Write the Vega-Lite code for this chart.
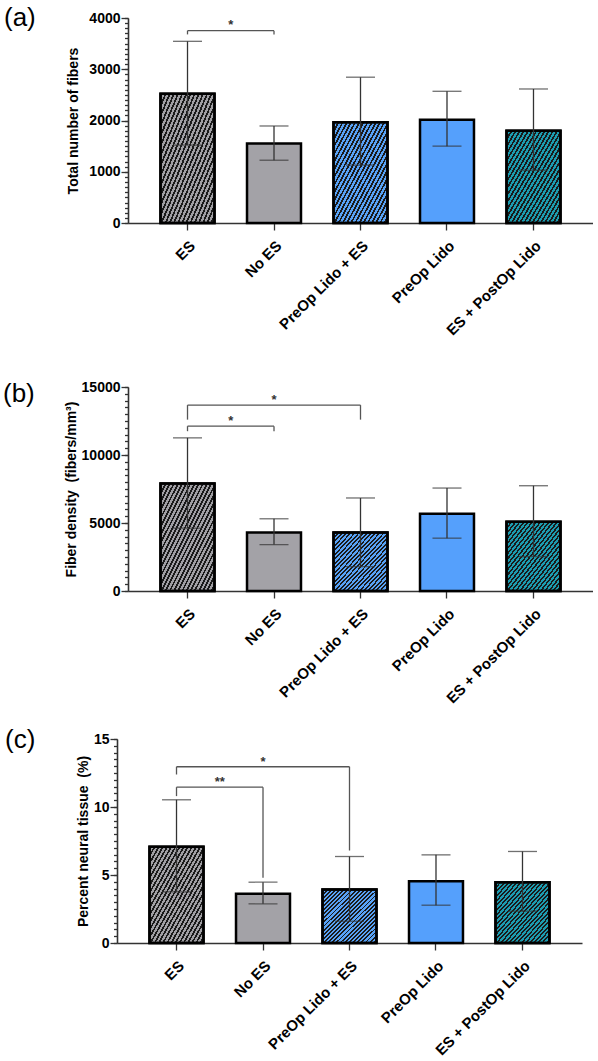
{
  "$schema": "https://vega.github.io/schema/vega-lite/v6.json",
  "padding": {"left": 3, "top": 5, "right": 0, "bottom": 0},
  "autosize": {"type": "pad"},
  "background": "white",
  "config": {
    "view": {"stroke": null},
    "font": "Liberation Sans",
    "axisY": {
      "domainColor": "#333", "domainWidth": 1.6, "tickColor": "#333", "tickWidth": 1.3,
      "labelFontSize": 14, "labelFontWeight": "bold", "labelColor": "black", "labelPadding": 1,
      "labelOverlap": false, "labelFlush": false, "labelBound": false,
      "titleFontSize": 14, "titleFontWeight": "bold", "titleColor": "black", "grid": false, "format": "d"
    },
    "axisX": {
      "domainColor": "#333", "domainWidth": 1.6, "tickColor": "#333", "tickWidth": 1.3, "tickSize": 7,
      "labelAngle": -45, "labelFontSize": 15, "labelFontWeight": "bold", "labelColor": "black",
      "labelPadding": 8, "grid": false
    },
    "title": {"fontSize": 26, "fontWeight": "normal", "color": "black", "anchor": "start", "frame": "group"}
  },
  "datasets": {
    "a": [
      {"group": "ES", "mean": 2520, "lo": 1520, "hi": 3545},
      {"group": "No ES", "mean": 1550, "lo": 1225, "hi": 1893},
      {"group": "PreOp Lido + ES", "mean": 1965, "lo": 1130, "hi": 2845},
      {"group": "PreOp Lido", "mean": 2015, "lo": 1500, "hi": 2570},
      {"group": "ES + PostOp Lido", "mean": 1800, "lo": 1030, "hi": 2615}
    ],
    "a_br": [
      {"kind": "inner", "from": "ES", "to": "No ES", "mid": "ES", "y": 3752, "yl": 3680, "yr": 3680, "star": "*", "ys": 3790}
    ],
    "b": [
      {"group": "ES", "mean": 7900, "lo": 4620, "hi": 11260},
      {"group": "No ES", "mean": 4300, "lo": 3410, "hi": 5310},
      {"group": "PreOp Lido + ES", "mean": 4300, "lo": 1790, "hi": 6840},
      {"group": "PreOp Lido", "mean": 5680, "lo": 3885, "hi": 7570},
      {"group": "ES + PostOp Lido", "mean": 5090, "lo": 2530, "hi": 7740}
    ],
    "b_br": [
      {"kind": "inner", "from": "ES", "to": "No ES", "mid": "ES", "y": 12120, "yl": 11750, "yr": 11750, "star": "*", "ys": 12200},
      {"kind": "outer", "from": "ES", "to": "PreOp Lido + ES", "mid": "No ES", "y": 13670, "yl": 12600, "yr": 12600, "star": "*", "ys": 13750}
    ],
    "c": [
      {"group": "ES", "mean": 7.07, "lo": 3.76, "hi": 10.53},
      {"group": "No ES", "mean": 3.62, "lo": 2.88, "hi": 4.47},
      {"group": "PreOp Lido + ES", "mean": 3.93, "lo": 1.6, "hi": 6.36},
      {"group": "PreOp Lido", "mean": 4.54, "lo": 2.78, "hi": 6.48},
      {"group": "ES + PostOp Lido", "mean": 4.47, "lo": 2.34, "hi": 6.73}
    ],
    "c_br": [
      {"kind": "inner", "from": "ES", "to": "No ES", "mid": "ES", "y": 11.46, "yl": 10.8, "yr": 4.8, "star": "**", "ys": 11.55},
      {"kind": "outer", "from": "ES", "to": "PreOp Lido + ES", "mid": "No ES", "y": 12.96, "yl": 12.39, "yr": 6.8, "star": "*", "ys": 13.05}
    ]
  },
  "bounds": "flush",
  "spacing": 164,
  "vconcat": [
    {
      "width": 465, "height": 205,
      "title": {"text": "(a)", "dx": -124, "offset": -20},
      "resolve": {"axis": {"y": "independent"}},
      "layer": [
        {
          "data": {"name": "a"},
          "mark": {"type": "bar", "stroke": "black", "strokeWidth": 2.5},
          "encoding": {
            "x": {"field": "group", "type": "nominal", "title": null,
              "scale": {"domain": ["ES", "No ES", "PreOp Lido + ES", "PreOp Lido", "ES + PostOp Lido"], "paddingInner": 0.376, "paddingOuter": 0.376},
              "axis": {"title": null}},
            "y": {"field": "mean", "type": "quantitative",
              "scale": {"domain": [0, 4000], "nice": false},
              "axis": {"title": "Total number of fibers", "orient": "left", "values": [0, 1000, 2000, 3000, 4000], "tickSize": 7, "titlePadding": 8}},
            "fill": {"field": "group", "type": "nominal", "legend": null,
              "scale": {"domain": ["ES", "No ES", "PreOp Lido + ES", "PreOp Lido", "ES + PostOp Lido"], "range": ["#a09fa4", "#a3a2a7", "#58a2f6", "#55a0fc", "#1c9cb0"]}}
          }
        },
        {
          "data": {"name": "a"},
          "transform": [{"filter": {"field": "group", "oneOf": ["ES", "PreOp Lido + ES", "ES + PostOp Lido"]}}],
          "mark": {"type": "bar", "stroke": "black", "strokeWidth": 2.5,
            "fill": {"gradient": "linear", "x1": 0, "y1": 0, "x2": 1, "y2": 1, "stops": [
              {"offset": 0.0, "color": "#1a1a1a"}, {"offset": 0.0173, "color": "#1a1a1a"}, {"offset": 0.0173, "color": "rgba(0,0,0,0)"}, {"offset": 0.0385, "color": "rgba(0,0,0,0)"},
              {"offset": 0.0385, "color": "#1a1a1a"}, {"offset": 0.0558, "color": "#1a1a1a"}, {"offset": 0.0558, "color": "rgba(0,0,0,0)"}, {"offset": 0.0769, "color": "rgba(0,0,0,0)"},
              {"offset": 0.0769, "color": "#1a1a1a"}, {"offset": 0.0942, "color": "#1a1a1a"}, {"offset": 0.0942, "color": "rgba(0,0,0,0)"}, {"offset": 0.1154, "color": "rgba(0,0,0,0)"},
              {"offset": 0.1154, "color": "#1a1a1a"}, {"offset": 0.1327, "color": "#1a1a1a"}, {"offset": 0.1327, "color": "rgba(0,0,0,0)"}, {"offset": 0.1538, "color": "rgba(0,0,0,0)"},
              {"offset": 0.1538, "color": "#1a1a1a"}, {"offset": 0.1711, "color": "#1a1a1a"}, {"offset": 0.1711, "color": "rgba(0,0,0,0)"}, {"offset": 0.1923, "color": "rgba(0,0,0,0)"},
              {"offset": 0.1923, "color": "#1a1a1a"}, {"offset": 0.2096, "color": "#1a1a1a"}, {"offset": 0.2096, "color": "rgba(0,0,0,0)"}, {"offset": 0.2308, "color": "rgba(0,0,0,0)"},
              {"offset": 0.2308, "color": "#1a1a1a"}, {"offset": 0.2481, "color": "#1a1a1a"}, {"offset": 0.2481, "color": "rgba(0,0,0,0)"}, {"offset": 0.2692, "color": "rgba(0,0,0,0)"},
              {"offset": 0.2692, "color": "#1a1a1a"}, {"offset": 0.2865, "color": "#1a1a1a"}, {"offset": 0.2865, "color": "rgba(0,0,0,0)"}, {"offset": 0.3077, "color": "rgba(0,0,0,0)"},
              {"offset": 0.3077, "color": "#1a1a1a"}, {"offset": 0.3250, "color": "#1a1a1a"}, {"offset": 0.3250, "color": "rgba(0,0,0,0)"}, {"offset": 0.3462, "color": "rgba(0,0,0,0)"},
              {"offset": 0.3462, "color": "#1a1a1a"}, {"offset": 0.3635, "color": "#1a1a1a"}, {"offset": 0.3635, "color": "rgba(0,0,0,0)"}, {"offset": 0.3846, "color": "rgba(0,0,0,0)"},
              {"offset": 0.3846, "color": "#1a1a1a"}, {"offset": 0.4019, "color": "#1a1a1a"}, {"offset": 0.4019, "color": "rgba(0,0,0,0)"}, {"offset": 0.4231, "color": "rgba(0,0,0,0)"},
              {"offset": 0.4231, "color": "#1a1a1a"}, {"offset": 0.4404, "color": "#1a1a1a"}, {"offset": 0.4404, "color": "rgba(0,0,0,0)"}, {"offset": 0.4615, "color": "rgba(0,0,0,0)"},
              {"offset": 0.4615, "color": "#1a1a1a"}, {"offset": 0.4788, "color": "#1a1a1a"}, {"offset": 0.4788, "color": "rgba(0,0,0,0)"}, {"offset": 0.5000, "color": "rgba(0,0,0,0)"},
              {"offset": 0.5000, "color": "#1a1a1a"}, {"offset": 0.5173, "color": "#1a1a1a"}, {"offset": 0.5173, "color": "rgba(0,0,0,0)"}, {"offset": 0.5385, "color": "rgba(0,0,0,0)"},
              {"offset": 0.5385, "color": "#1a1a1a"}, {"offset": 0.5558, "color": "#1a1a1a"}, {"offset": 0.5558, "color": "rgba(0,0,0,0)"}, {"offset": 0.5769, "color": "rgba(0,0,0,0)"},
              {"offset": 0.5769, "color": "#1a1a1a"}, {"offset": 0.5942, "color": "#1a1a1a"}, {"offset": 0.5942, "color": "rgba(0,0,0,0)"}, {"offset": 0.6154, "color": "rgba(0,0,0,0)"},
              {"offset": 0.6154, "color": "#1a1a1a"}, {"offset": 0.6327, "color": "#1a1a1a"}, {"offset": 0.6327, "color": "rgba(0,0,0,0)"}, {"offset": 0.6538, "color": "rgba(0,0,0,0)"},
              {"offset": 0.6538, "color": "#1a1a1a"}, {"offset": 0.6711, "color": "#1a1a1a"}, {"offset": 0.6711, "color": "rgba(0,0,0,0)"}, {"offset": 0.6923, "color": "rgba(0,0,0,0)"},
              {"offset": 0.6923, "color": "#1a1a1a"}, {"offset": 0.7096, "color": "#1a1a1a"}, {"offset": 0.7096, "color": "rgba(0,0,0,0)"}, {"offset": 0.7308, "color": "rgba(0,0,0,0)"},
              {"offset": 0.7308, "color": "#1a1a1a"}, {"offset": 0.7481, "color": "#1a1a1a"}, {"offset": 0.7481, "color": "rgba(0,0,0,0)"}, {"offset": 0.7692, "color": "rgba(0,0,0,0)"},
              {"offset": 0.7692, "color": "#1a1a1a"}, {"offset": 0.7865, "color": "#1a1a1a"}, {"offset": 0.7865, "color": "rgba(0,0,0,0)"}, {"offset": 0.8077, "color": "rgba(0,0,0,0)"},
              {"offset": 0.8077, "color": "#1a1a1a"}, {"offset": 0.8250, "color": "#1a1a1a"}, {"offset": 0.8250, "color": "rgba(0,0,0,0)"}, {"offset": 0.8462, "color": "rgba(0,0,0,0)"},
              {"offset": 0.8462, "color": "#1a1a1a"}, {"offset": 0.8635, "color": "#1a1a1a"}, {"offset": 0.8635, "color": "rgba(0,0,0,0)"}, {"offset": 0.8846, "color": "rgba(0,0,0,0)"},
              {"offset": 0.8846, "color": "#1a1a1a"}, {"offset": 0.9019, "color": "#1a1a1a"}, {"offset": 0.9019, "color": "rgba(0,0,0,0)"}, {"offset": 0.9231, "color": "rgba(0,0,0,0)"},
              {"offset": 0.9231, "color": "#1a1a1a"}, {"offset": 0.9404, "color": "#1a1a1a"}, {"offset": 0.9404, "color": "rgba(0,0,0,0)"}, {"offset": 0.9615, "color": "rgba(0,0,0,0)"},
              {"offset": 0.9615, "color": "#1a1a1a"}, {"offset": 0.9788, "color": "#1a1a1a"}, {"offset": 0.9788, "color": "rgba(0,0,0,0)"}, {"offset": 1.0, "color": "rgba(0,0,0,0)"}
            ]}},
          "encoding": {"x": {"field": "group", "type": "nominal", "title": null}, "y": {"field": "mean", "type": "quantitative", "axis": null}}
        },
        {
          "data": {"name": "a"},
          "mark": {"type": "rule", "color": "#333", "strokeWidth": 1.3},
          "encoding": {"x": {"field": "group", "type": "nominal", "title": null},
            "y": {"field": "lo", "type": "quantitative",
              "axis": {"orient": "left", "title": null, "labels": false, "domain": false, "tickSize": 3.5,
                "values": [0,100,200,300,400,500,600,700,800,900,1000,1100,1200,1300,1400,1500,1600,1700,1800,1900,2000,2100,2200,2300,2400,2500,2600,2700,2800,2900,3000,3100,3200,3300,3400,3500,3600,3700,3800,3900,4000]}},
            "y2": {"field": "hi"}}
        },
        {
          "data": {"name": "a"},
          "mark": {"type": "tick", "color": "#333", "thickness": 1.3, "size": 29},
          "encoding": {"x": {"field": "group", "type": "nominal", "title": null}, "y": {"field": "lo", "type": "quantitative", "axis": null}}
        },
        {
          "data": {"name": "a"},
          "mark": {"type": "tick", "color": "#333", "thickness": 1.3, "size": 29},
          "encoding": {"x": {"field": "group", "type": "nominal", "title": null}, "y": {"field": "hi", "type": "quantitative", "axis": null}}
        },
        {
          "data": {"name": "a_br"},
          "mark": {"type": "rule", "color": "#555", "strokeWidth": 1.3},
          "encoding": {"x": {"field": "from", "type": "nominal", "title": null}, "x2": {"field": "to"}, "y": {"field": "y", "type": "quantitative", "axis": null}}
        },
        {
          "data": {"name": "a_br"},
          "mark": {"type": "rule", "color": "#555", "strokeWidth": 1.3},
          "encoding": {"x": {"field": "from", "type": "nominal", "title": null}, "y": {"field": "y", "type": "quantitative", "axis": null}, "y2": {"field": "yl"}}
        },
        {
          "data": {"name": "a_br"},
          "mark": {"type": "rule", "color": "#555", "strokeWidth": 1.3},
          "encoding": {"x": {"field": "to", "type": "nominal", "title": null}, "y": {"field": "y", "type": "quantitative", "axis": null}, "y2": {"field": "yr"}}
        },
        {
          "data": {"name": "a_br"},
          "transform": [{"filter": "datum.kind === 'inner'"}],
          "mark": {"type": "text", "fontSize": 13, "fontWeight": "bold", "color": "#333", "baseline": "alphabetic"},
          "encoding": {"x": {"field": "mid", "type": "nominal", "title": null, "bandPosition": 1.301}, "y": {"field": "ys", "type": "quantitative", "axis": null}, "text": {"field": "star"}}
        }
      ]
    },
    {
      "bounds": "flush",
      "spacing": 148,
      "vconcat": [
        {
          "width": 465, "height": 204,
          "title": {"text": "(b)", "dx": -125, "offset": -27},
          "resolve": {"axis": {"y": "independent"}},
          "layer": [
            {
              "data": {"name": "b"},
              "mark": {"type": "bar", "stroke": "black", "strokeWidth": 2.5},
              "encoding": {
                "x": {"field": "group", "type": "nominal", "title": null,
                  "scale": {"domain": ["ES", "No ES", "PreOp Lido + ES", "PreOp Lido", "ES + PostOp Lido"], "paddingInner": 0.376, "paddingOuter": 0.376},
                  "axis": {"title": null}},
                "y": {"field": "mean", "type": "quantitative",
                  "scale": {"domain": [0, 15000], "nice": false},
                  "axis": {"title": "Fiber density\u00a0\u00a0(fibers/mm³)", "orient": "left", "values": [0, 5000, 10000, 15000], "tickSize": 7, "titlePadding": 3}},
                "fill": {"field": "group", "type": "nominal", "legend": null,
                  "scale": {"domain": ["ES", "No ES", "PreOp Lido + ES", "PreOp Lido", "ES + PostOp Lido"], "range": ["#a09fa4", "#a3a2a7", "#58a2f6", "#55a0fc", "#1c9cb0"]}}
              }
            },
            {
              "data": {"name": "b"},
              "transform": [{"filter": {"field": "group", "oneOf": ["ES", "PreOp Lido + ES", "ES + PostOp Lido"]}}],
              "mark": {"type": "bar", "stroke": "black", "strokeWidth": 2.5,
                "fill": {"gradient": "linear", "x1": 0, "y1": 0, "x2": 1, "y2": 1, "stops": [
                  {"offset": 0.0, "color": "#1a1a1a"}, {"offset": 0.0173, "color": "#1a1a1a"}, {"offset": 0.0173, "color": "rgba(0,0,0,0)"}, {"offset": 0.0385, "color": "rgba(0,0,0,0)"},
                  {"offset": 0.0385, "color": "#1a1a1a"}, {"offset": 0.0558, "color": "#1a1a1a"}, {"offset": 0.0558, "color": "rgba(0,0,0,0)"}, {"offset": 0.0769, "color": "rgba(0,0,0,0)"},
                  {"offset": 0.0769, "color": "#1a1a1a"}, {"offset": 0.0942, "color": "#1a1a1a"}, {"offset": 0.0942, "color": "rgba(0,0,0,0)"}, {"offset": 0.1154, "color": "rgba(0,0,0,0)"},
                  {"offset": 0.1154, "color": "#1a1a1a"}, {"offset": 0.1327, "color": "#1a1a1a"}, {"offset": 0.1327, "color": "rgba(0,0,0,0)"}, {"offset": 0.1538, "color": "rgba(0,0,0,0)"},
                  {"offset": 0.1538, "color": "#1a1a1a"}, {"offset": 0.1711, "color": "#1a1a1a"}, {"offset": 0.1711, "color": "rgba(0,0,0,0)"}, {"offset": 0.1923, "color": "rgba(0,0,0,0)"},
                  {"offset": 0.1923, "color": "#1a1a1a"}, {"offset": 0.2096, "color": "#1a1a1a"}, {"offset": 0.2096, "color": "rgba(0,0,0,0)"}, {"offset": 0.2308, "color": "rgba(0,0,0,0)"},
                  {"offset": 0.2308, "color": "#1a1a1a"}, {"offset": 0.2481, "color": "#1a1a1a"}, {"offset": 0.2481, "color": "rgba(0,0,0,0)"}, {"offset": 0.2692, "color": "rgba(0,0,0,0)"},
                  {"offset": 0.2692, "color": "#1a1a1a"}, {"offset": 0.2865, "color": "#1a1a1a"}, {"offset": 0.2865, "color": "rgba(0,0,0,0)"}, {"offset": 0.3077, "color": "rgba(0,0,0,0)"},
                  {"offset": 0.3077, "color": "#1a1a1a"}, {"offset": 0.3250, "color": "#1a1a1a"}, {"offset": 0.3250, "color": "rgba(0,0,0,0)"}, {"offset": 0.3462, "color": "rgba(0,0,0,0)"},
                  {"offset": 0.3462, "color": "#1a1a1a"}, {"offset": 0.3635, "color": "#1a1a1a"}, {"offset": 0.3635, "color": "rgba(0,0,0,0)"}, {"offset": 0.3846, "color": "rgba(0,0,0,0)"},
                  {"offset": 0.3846, "color": "#1a1a1a"}, {"offset": 0.4019, "color": "#1a1a1a"}, {"offset": 0.4019, "color": "rgba(0,0,0,0)"}, {"offset": 0.4231, "color": "rgba(0,0,0,0)"},
                  {"offset": 0.4231, "color": "#1a1a1a"}, {"offset": 0.4404, "color": "#1a1a1a"}, {"offset": 0.4404, "color": "rgba(0,0,0,0)"}, {"offset": 0.4615, "color": "rgba(0,0,0,0)"},
                  {"offset": 0.4615, "color": "#1a1a1a"}, {"offset": 0.4788, "color": "#1a1a1a"}, {"offset": 0.4788, "color": "rgba(0,0,0,0)"}, {"offset": 0.5000, "color": "rgba(0,0,0,0)"},
                  {"offset": 0.5000, "color": "#1a1a1a"}, {"offset": 0.5173, "color": "#1a1a1a"}, {"offset": 0.5173, "color": "rgba(0,0,0,0)"}, {"offset": 0.5385, "color": "rgba(0,0,0,0)"},
                  {"offset": 0.5385, "color": "#1a1a1a"}, {"offset": 0.5558, "color": "#1a1a1a"}, {"offset": 0.5558, "color": "rgba(0,0,0,0)"}, {"offset": 0.5769, "color": "rgba(0,0,0,0)"},
                  {"offset": 0.5769, "color": "#1a1a1a"}, {"offset": 0.5942, "color": "#1a1a1a"}, {"offset": 0.5942, "color": "rgba(0,0,0,0)"}, {"offset": 0.6154, "color": "rgba(0,0,0,0)"},
                  {"offset": 0.6154, "color": "#1a1a1a"}, {"offset": 0.6327, "color": "#1a1a1a"}, {"offset": 0.6327, "color": "rgba(0,0,0,0)"}, {"offset": 0.6538, "color": "rgba(0,0,0,0)"},
                  {"offset": 0.6538, "color": "#1a1a1a"}, {"offset": 0.6711, "color": "#1a1a1a"}, {"offset": 0.6711, "color": "rgba(0,0,0,0)"}, {"offset": 0.6923, "color": "rgba(0,0,0,0)"},
                  {"offset": 0.6923, "color": "#1a1a1a"}, {"offset": 0.7096, "color": "#1a1a1a"}, {"offset": 0.7096, "color": "rgba(0,0,0,0)"}, {"offset": 0.7308, "color": "rgba(0,0,0,0)"},
                  {"offset": 0.7308, "color": "#1a1a1a"}, {"offset": 0.7481, "color": "#1a1a1a"}, {"offset": 0.7481, "color": "rgba(0,0,0,0)"}, {"offset": 0.7692, "color": "rgba(0,0,0,0)"},
                  {"offset": 0.7692, "color": "#1a1a1a"}, {"offset": 0.7865, "color": "#1a1a1a"}, {"offset": 0.7865, "color": "rgba(0,0,0,0)"}, {"offset": 0.8077, "color": "rgba(0,0,0,0)"},
                  {"offset": 0.8077, "color": "#1a1a1a"}, {"offset": 0.8250, "color": "#1a1a1a"}, {"offset": 0.8250, "color": "rgba(0,0,0,0)"}, {"offset": 0.8462, "color": "rgba(0,0,0,0)"},
                  {"offset": 0.8462, "color": "#1a1a1a"}, {"offset": 0.8635, "color": "#1a1a1a"}, {"offset": 0.8635, "color": "rgba(0,0,0,0)"}, {"offset": 0.8846, "color": "rgba(0,0,0,0)"},
                  {"offset": 0.8846, "color": "#1a1a1a"}, {"offset": 0.9019, "color": "#1a1a1a"}, {"offset": 0.9019, "color": "rgba(0,0,0,0)"}, {"offset": 0.9231, "color": "rgba(0,0,0,0)"},
                  {"offset": 0.9231, "color": "#1a1a1a"}, {"offset": 0.9404, "color": "#1a1a1a"}, {"offset": 0.9404, "color": "rgba(0,0,0,0)"}, {"offset": 0.9615, "color": "rgba(0,0,0,0)"},
                  {"offset": 0.9615, "color": "#1a1a1a"}, {"offset": 0.9788, "color": "#1a1a1a"}, {"offset": 0.9788, "color": "rgba(0,0,0,0)"}, {"offset": 1.0, "color": "rgba(0,0,0,0)"}
                ]}},
              "encoding": {"x": {"field": "group", "type": "nominal", "title": null}, "y": {"field": "mean", "type": "quantitative", "axis": null}}
            },
            {
              "data": {"name": "b"},
              "mark": {"type": "rule", "color": "#333", "strokeWidth": 1.3},
              "encoding": {"x": {"field": "group", "type": "nominal", "title": null},
                "y": {"field": "lo", "type": "quantitative",
                  "axis": {"orient": "left", "title": null, "labels": false, "domain": false, "tickSize": 3.5,
                    "values": [0,500,1000,1500,2000,2500,3000,3500,4000,4500,5000,5500,6000,6500,7000,7500,8000,8500,9000,9500,10000,10500,11000,11500,12000,12500,13000,13500,14000,14500,15000]}},
                "y2": {"field": "hi"}}
            },
            {
              "data": {"name": "b"},
              "mark": {"type": "tick", "color": "#333", "thickness": 1.3, "size": 29},
              "encoding": {"x": {"field": "group", "type": "nominal", "title": null}, "y": {"field": "lo", "type": "quantitative", "axis": null}}
            },
            {
              "data": {"name": "b"},
              "mark": {"type": "tick", "color": "#333", "thickness": 1.3, "size": 29},
              "encoding": {"x": {"field": "group", "type": "nominal", "title": null}, "y": {"field": "hi", "type": "quantitative", "axis": null}}
            },
            {
              "data": {"name": "b_br"},
              "mark": {"type": "rule", "color": "#555", "strokeWidth": 1.3},
              "encoding": {"x": {"field": "from", "type": "nominal", "title": null}, "x2": {"field": "to"}, "y": {"field": "y", "type": "quantitative", "axis": null}}
            },
            {
              "data": {"name": "b_br"},
              "mark": {"type": "rule", "color": "#555", "strokeWidth": 1.3},
              "encoding": {"x": {"field": "from", "type": "nominal", "title": null}, "y": {"field": "y", "type": "quantitative", "axis": null}, "y2": {"field": "yl"}}
            },
            {
              "data": {"name": "b_br"},
              "mark": {"type": "rule", "color": "#555", "strokeWidth": 1.3},
              "encoding": {"x": {"field": "to", "type": "nominal", "title": null}, "y": {"field": "y", "type": "quantitative", "axis": null}, "y2": {"field": "yr"}}
            },
            {
              "data": {"name": "b_br"},
              "transform": [{"filter": "datum.kind === 'inner'"}],
              "mark": {"type": "text", "fontSize": 13, "fontWeight": "bold", "color": "#333", "baseline": "alphabetic"},
              "encoding": {"x": {"field": "mid", "type": "nominal", "title": null, "bandPosition": 1.301}, "y": {"field": "ys", "type": "quantitative", "axis": null}, "text": {"field": "star"}}
            },
            {
              "data": {"name": "b_br"},
              "transform": [{"filter": "datum.kind === 'outer'"}],
              "mark": {"type": "text", "fontSize": 13, "fontWeight": "bold", "color": "#333", "baseline": "alphabetic"},
              "encoding": {"x": {"field": "mid", "type": "nominal", "title": null, "bandPosition": 0.5}, "y": {"field": "ys", "type": "quantitative", "axis": null}, "text": {"field": "star"}}
            }
          ]
        },
        {
          "width": 454, "height": 204,
          "title": {"text": "(c)", "dx": -123, "offset": -21},
          "resolve": {"axis": {"y": "independent"}},
          "layer": [
            {
              "data": {"name": "c"},
              "mark": {"type": "bar", "stroke": "black", "strokeWidth": 2.5},
              "encoding": {
                "x": {"field": "group", "type": "nominal", "title": null,
                  "scale": {"domain": ["ES", "No ES", "PreOp Lido + ES", "PreOp Lido", "ES + PostOp Lido"], "paddingInner": 0.376, "paddingOuter": 0.376, "range": [-11, 454]},
                  "axis": {"title": null}},
                "y": {"field": "mean", "type": "quantitative",
                  "scale": {"domain": [0, 15], "nice": false},
                  "axis": {"title": "Percent neural tissue\u00a0\u00a0(%)", "orient": "left", "offset": 11, "values": [0, 5, 10, 15], "tickSize": 7, "titlePadding": 3}},
                "fill": {"field": "group", "type": "nominal", "legend": null,
                  "scale": {"domain": ["ES", "No ES", "PreOp Lido + ES", "PreOp Lido", "ES + PostOp Lido"], "range": ["#a09fa4", "#a3a2a7", "#58a2f6", "#55a0fc", "#1c9cb0"]}}
              }
            },
            {
              "data": {"name": "c"},
              "transform": [{"filter": {"field": "group", "oneOf": ["ES", "PreOp Lido + ES", "ES + PostOp Lido"]}}],
              "mark": {"type": "bar", "stroke": "black", "strokeWidth": 2.5,
                "fill": {"gradient": "linear", "x1": 0, "y1": 0, "x2": 1, "y2": 1, "stops": [
                  {"offset": 0.0, "color": "#1a1a1a"}, {"offset": 0.0173, "color": "#1a1a1a"}, {"offset": 0.0173, "color": "rgba(0,0,0,0)"}, {"offset": 0.0385, "color": "rgba(0,0,0,0)"},
                  {"offset": 0.0385, "color": "#1a1a1a"}, {"offset": 0.0558, "color": "#1a1a1a"}, {"offset": 0.0558, "color": "rgba(0,0,0,0)"}, {"offset": 0.0769, "color": "rgba(0,0,0,0)"},
                  {"offset": 0.0769, "color": "#1a1a1a"}, {"offset": 0.0942, "color": "#1a1a1a"}, {"offset": 0.0942, "color": "rgba(0,0,0,0)"}, {"offset": 0.1154, "color": "rgba(0,0,0,0)"},
                  {"offset": 0.1154, "color": "#1a1a1a"}, {"offset": 0.1327, "color": "#1a1a1a"}, {"offset": 0.1327, "color": "rgba(0,0,0,0)"}, {"offset": 0.1538, "color": "rgba(0,0,0,0)"},
                  {"offset": 0.1538, "color": "#1a1a1a"}, {"offset": 0.1711, "color": "#1a1a1a"}, {"offset": 0.1711, "color": "rgba(0,0,0,0)"}, {"offset": 0.1923, "color": "rgba(0,0,0,0)"},
                  {"offset": 0.1923, "color": "#1a1a1a"}, {"offset": 0.2096, "color": "#1a1a1a"}, {"offset": 0.2096, "color": "rgba(0,0,0,0)"}, {"offset": 0.2308, "color": "rgba(0,0,0,0)"},
                  {"offset": 0.2308, "color": "#1a1a1a"}, {"offset": 0.2481, "color": "#1a1a1a"}, {"offset": 0.2481, "color": "rgba(0,0,0,0)"}, {"offset": 0.2692, "color": "rgba(0,0,0,0)"},
                  {"offset": 0.2692, "color": "#1a1a1a"}, {"offset": 0.2865, "color": "#1a1a1a"}, {"offset": 0.2865, "color": "rgba(0,0,0,0)"}, {"offset": 0.3077, "color": "rgba(0,0,0,0)"},
                  {"offset": 0.3077, "color": "#1a1a1a"}, {"offset": 0.3250, "color": "#1a1a1a"}, {"offset": 0.3250, "color": "rgba(0,0,0,0)"}, {"offset": 0.3462, "color": "rgba(0,0,0,0)"},
                  {"offset": 0.3462, "color": "#1a1a1a"}, {"offset": 0.3635, "color": "#1a1a1a"}, {"offset": 0.3635, "color": "rgba(0,0,0,0)"}, {"offset": 0.3846, "color": "rgba(0,0,0,0)"},
                  {"offset": 0.3846, "color": "#1a1a1a"}, {"offset": 0.4019, "color": "#1a1a1a"}, {"offset": 0.4019, "color": "rgba(0,0,0,0)"}, {"offset": 0.4231, "color": "rgba(0,0,0,0)"},
                  {"offset": 0.4231, "color": "#1a1a1a"}, {"offset": 0.4404, "color": "#1a1a1a"}, {"offset": 0.4404, "color": "rgba(0,0,0,0)"}, {"offset": 0.4615, "color": "rgba(0,0,0,0)"},
                  {"offset": 0.4615, "color": "#1a1a1a"}, {"offset": 0.4788, "color": "#1a1a1a"}, {"offset": 0.4788, "color": "rgba(0,0,0,0)"}, {"offset": 0.5000, "color": "rgba(0,0,0,0)"},
                  {"offset": 0.5000, "color": "#1a1a1a"}, {"offset": 0.5173, "color": "#1a1a1a"}, {"offset": 0.5173, "color": "rgba(0,0,0,0)"}, {"offset": 0.5385, "color": "rgba(0,0,0,0)"},
                  {"offset": 0.5385, "color": "#1a1a1a"}, {"offset": 0.5558, "color": "#1a1a1a"}, {"offset": 0.5558, "color": "rgba(0,0,0,0)"}, {"offset": 0.5769, "color": "rgba(0,0,0,0)"},
                  {"offset": 0.5769, "color": "#1a1a1a"}, {"offset": 0.5942, "color": "#1a1a1a"}, {"offset": 0.5942, "color": "rgba(0,0,0,0)"}, {"offset": 0.6154, "color": "rgba(0,0,0,0)"},
                  {"offset": 0.6154, "color": "#1a1a1a"}, {"offset": 0.6327, "color": "#1a1a1a"}, {"offset": 0.6327, "color": "rgba(0,0,0,0)"}, {"offset": 0.6538, "color": "rgba(0,0,0,0)"},
                  {"offset": 0.6538, "color": "#1a1a1a"}, {"offset": 0.6711, "color": "#1a1a1a"}, {"offset": 0.6711, "color": "rgba(0,0,0,0)"}, {"offset": 0.6923, "color": "rgba(0,0,0,0)"},
                  {"offset": 0.6923, "color": "#1a1a1a"}, {"offset": 0.7096, "color": "#1a1a1a"}, {"offset": 0.7096, "color": "rgba(0,0,0,0)"}, {"offset": 0.7308, "color": "rgba(0,0,0,0)"},
                  {"offset": 0.7308, "color": "#1a1a1a"}, {"offset": 0.7481, "color": "#1a1a1a"}, {"offset": 0.7481, "color": "rgba(0,0,0,0)"}, {"offset": 0.7692, "color": "rgba(0,0,0,0)"},
                  {"offset": 0.7692, "color": "#1a1a1a"}, {"offset": 0.7865, "color": "#1a1a1a"}, {"offset": 0.7865, "color": "rgba(0,0,0,0)"}, {"offset": 0.8077, "color": "rgba(0,0,0,0)"},
                  {"offset": 0.8077, "color": "#1a1a1a"}, {"offset": 0.8250, "color": "#1a1a1a"}, {"offset": 0.8250, "color": "rgba(0,0,0,0)"}, {"offset": 0.8462, "color": "rgba(0,0,0,0)"},
                  {"offset": 0.8462, "color": "#1a1a1a"}, {"offset": 0.8635, "color": "#1a1a1a"}, {"offset": 0.8635, "color": "rgba(0,0,0,0)"}, {"offset": 0.8846, "color": "rgba(0,0,0,0)"},
                  {"offset": 0.8846, "color": "#1a1a1a"}, {"offset": 0.9019, "color": "#1a1a1a"}, {"offset": 0.9019, "color": "rgba(0,0,0,0)"}, {"offset": 0.9231, "color": "rgba(0,0,0,0)"},
                  {"offset": 0.9231, "color": "#1a1a1a"}, {"offset": 0.9404, "color": "#1a1a1a"}, {"offset": 0.9404, "color": "rgba(0,0,0,0)"}, {"offset": 0.9615, "color": "rgba(0,0,0,0)"},
                  {"offset": 0.9615, "color": "#1a1a1a"}, {"offset": 0.9788, "color": "#1a1a1a"}, {"offset": 0.9788, "color": "rgba(0,0,0,0)"}, {"offset": 1.0, "color": "rgba(0,0,0,0)"}
                ]}},
              "encoding": {"x": {"field": "group", "type": "nominal", "title": null}, "y": {"field": "mean", "type": "quantitative", "axis": null}}
            },
            {
              "data": {"name": "c"},
              "mark": {"type": "rule", "color": "#333", "strokeWidth": 1.3},
              "encoding": {"x": {"field": "group", "type": "nominal", "title": null},
                "y": {"field": "lo", "type": "quantitative",
                  "axis": {"orient": "left", "offset": 11, "title": null, "labels": false, "domain": false, "tickSize": 3.5,
                    "values": [0,0.5,1,1.5,2,2.5,3,3.5,4,4.5,5,5.5,6,6.5,7,7.5,8,8.5,9,9.5,10,10.5,11,11.5,12,12.5,13,13.5,14,14.5,15]}},
                "y2": {"field": "hi"}}
            },
            {
              "data": {"name": "c"},
              "mark": {"type": "tick", "color": "#333", "thickness": 1.3, "size": 29},
              "encoding": {"x": {"field": "group", "type": "nominal", "title": null}, "y": {"field": "lo", "type": "quantitative", "axis": null}}
            },
            {
              "data": {"name": "c"},
              "mark": {"type": "tick", "color": "#333", "thickness": 1.3, "size": 29},
              "encoding": {"x": {"field": "group", "type": "nominal", "title": null}, "y": {"field": "hi", "type": "quantitative", "axis": null}}
            },
            {
              "data": {"name": "c_br"},
              "mark": {"type": "rule", "color": "#555", "strokeWidth": 1.3},
              "encoding": {"x": {"field": "from", "type": "nominal", "title": null}, "x2": {"field": "to"}, "y": {"field": "y", "type": "quantitative", "axis": null}}
            },
            {
              "data": {"name": "c_br"},
              "mark": {"type": "rule", "color": "#555", "strokeWidth": 1.3},
              "encoding": {"x": {"field": "from", "type": "nominal", "title": null}, "y": {"field": "y", "type": "quantitative", "axis": null}, "y2": {"field": "yl"}}
            },
            {
              "data": {"name": "c_br"},
              "mark": {"type": "rule", "color": "#555", "strokeWidth": 1.3},
              "encoding": {"x": {"field": "to", "type": "nominal", "title": null}, "y": {"field": "y", "type": "quantitative", "axis": null}, "y2": {"field": "yr"}}
            },
            {
              "data": {"name": "c_br"},
              "transform": [{"filter": "datum.kind === 'inner'"}],
              "mark": {"type": "text", "fontSize": 13, "fontWeight": "bold", "color": "#333", "baseline": "alphabetic"},
              "encoding": {"x": {"field": "mid", "type": "nominal", "title": null, "bandPosition": 1.301}, "y": {"field": "ys", "type": "quantitative", "axis": null}, "text": {"field": "star"}}
            },
            {
              "data": {"name": "c_br"},
              "transform": [{"filter": "datum.kind === 'outer'"}],
              "mark": {"type": "text", "fontSize": 13, "fontWeight": "bold", "color": "#333", "baseline": "alphabetic"},
              "encoding": {"x": {"field": "mid", "type": "nominal", "title": null, "bandPosition": 0.5}, "y": {"field": "ys", "type": "quantitative", "axis": null}, "text": {"field": "star"}}
            }
          ]
        }
      ]
    }
  ]
}
